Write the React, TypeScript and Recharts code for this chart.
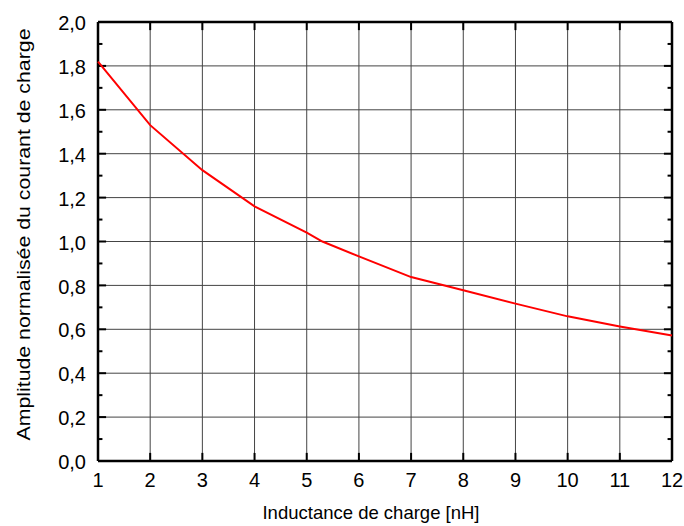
import React from "react";
import { CartesianGrid, Label, Line, LineChart, ReferenceLine, XAxis, YAxis } from "recharts";

// Inductance de charge [nH]
const inductance = [1, 2, 3, 4, 5, 5.3, 6, 7, 8, 9, 10, 11, 12];
// Amplitude normalisée du courant de charge
const amplitude = [1.82, 1.53, 1.325, 1.16, 1.04, 1.0, 0.932, 0.838, 0.778, 0.717, 0.659, 0.613, 0.572];

const xTicks = [1, 2, 3, 4, 5, 6, 7, 8, 9, 10, 11, 12];
const yTicks = [0, 0.2, 0.4, 0.6, 0.8, 1.0, 1.2, 1.4, 1.6, 1.8, 2.0];
const yMinorTicks = [0.1, 0.3, 0.5, 0.7, 0.9, 1.1, 1.3, 1.5, 1.7, 1.9];

const X_MIN = 1;
const X_MAX = 12;
const Y_MIN = 0;
const Y_MAX = 2;

const font = "'Liberation Sans', Arial, sans-serif";

const data = inductance.map((x, i) => ({ x, y: amplitude[i] }));

// inward tick lengths, in data units
const xTickLen = 0.037;
const yTickLen = 0.155;
const yMinorLen = 0.085;

const fmt = (v: number) => v.toFixed(1).replace(".", ",");

export default function App() {
  return (
    <div style={{ position: "absolute", left: 0, top: 0, width: 684, height: 526, background: "#fff" }}>
      <LineChart width={684} height={526} data={data} margin={{ top: 22, right: 12, bottom: 0, left: 38 }}>
        <CartesianGrid stroke="#444" strokeWidth={1} />
        <XAxis
          dataKey="x"
          type="number"
          domain={[X_MIN, X_MAX]}
          ticks={xTicks}
          interval={0}
          axisLine={false}
          tickLine={false}
          tickSize={0}
          tickMargin={12}
          tick={{ fill: "#000", fontSize: 20, fontFamily: font }}
          height={65}
        >
          <Label
            content={({ viewBox }: any) => (
              <text x={viewBox.x + viewBox.width / 2 - 14} y={viewBox.y + 58} textAnchor="middle" fontSize={18.5} fontFamily={font} fill="#000">
                Inductance de charge [nH]
              </text>
            )}
          />
        </XAxis>
        <YAxis
          type="number"
          domain={[Y_MIN, Y_MAX]}
          ticks={yTicks}
          interval={0}
          axisLine={false}
          tickLine={false}
          tickSize={0}
          tickMargin={12}
          tickFormatter={fmt}
          tick={{ fill: "#000", fontSize: 20, fontFamily: font, dy: 1 }}
          width={60}
        >
          <Label
            content={({ viewBox }: any) => {
              const cx = viewBox.x - 8;
              const cy = viewBox.y + viewBox.height / 2 - 7;
              return (
                <text
                  x={cx}
                  y={cy}
                  transform={`rotate(-90 ${cx} ${cy})`}
                  textAnchor="middle"
                  fontSize={18}
                  textLength={412}
                  lengthAdjust="spacingAndGlyphs"
                  fontFamily={font}
                  fill="#000"
                >
                  Amplitude normalisée du courant de charge
                </text>
              );
            }}
          />
        </YAxis>

        {/* inward ticks on bottom and top */}
        {xTicks.map((t) => (
          <ReferenceLine key={`xb${t}`} segment={[{ x: t, y: Y_MIN }, { x: t, y: Y_MIN + xTickLen }]} stroke="#000" strokeWidth={2} />
        ))}
        {xTicks.map((t) => (
          <ReferenceLine key={`xt${t}`} segment={[{ x: t, y: Y_MAX }, { x: t, y: Y_MAX - xTickLen }]} stroke="#000" strokeWidth={2} />
        ))}
        {/* inward ticks on left and right */}
        {yTicks.map((t) => (
          <ReferenceLine key={`yl${t}`} segment={[{ x: X_MIN, y: t }, { x: X_MIN + yTickLen, y: t }]} stroke="#000" strokeWidth={2} />
        ))}
        {yTicks.map((t) => (
          <ReferenceLine key={`yr${t}`} segment={[{ x: X_MAX, y: t }, { x: X_MAX - yTickLen, y: t }]} stroke="#000" strokeWidth={2} />
        ))}
        {yMinorTicks.map((t) => (
          <ReferenceLine key={`ml${t}`} segment={[{ x: X_MIN, y: t }, { x: X_MIN + yMinorLen, y: t }]} stroke="#000" strokeWidth={2} />
        ))}
        {yMinorTicks.map((t) => (
          <ReferenceLine key={`mr${t}`} segment={[{ x: X_MAX, y: t }, { x: X_MAX - yMinorLen, y: t }]} stroke="#000" strokeWidth={2} />
        ))}

        {/* frame */}
        <ReferenceLine y={Y_MIN} stroke="#000" strokeWidth={2.5} />
        <ReferenceLine y={Y_MAX} stroke="#000" strokeWidth={2.5} />
        <ReferenceLine x={X_MIN} stroke="#000" strokeWidth={2.5} />
        <ReferenceLine x={X_MAX} stroke="#000" strokeWidth={2.5} />

        <Line type="linear" dataKey="y" stroke="#ff0000" strokeWidth={2} dot={false} isAnimationActive={false} />
      </LineChart>
    </div>
  );
}
